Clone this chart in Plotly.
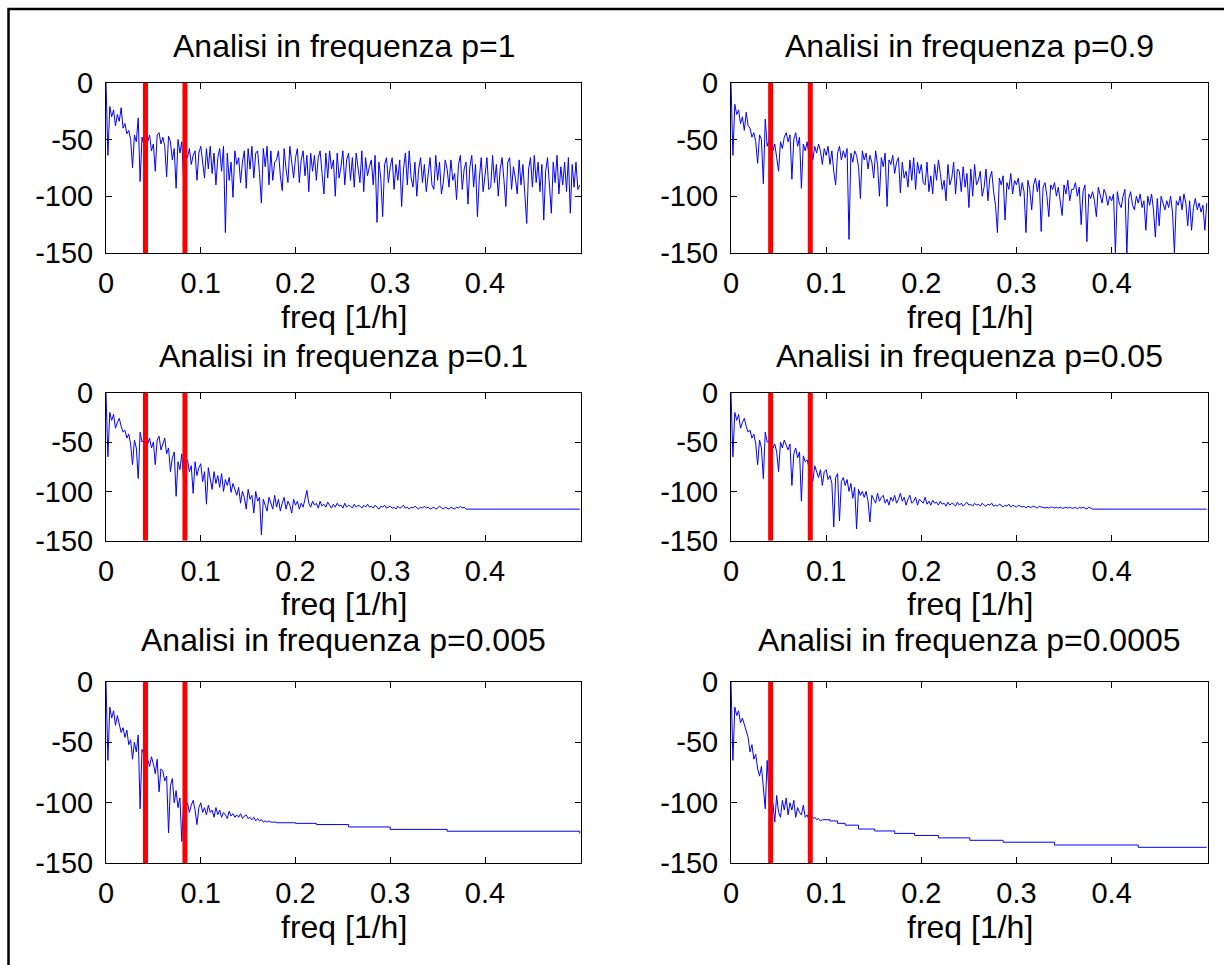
import plotly.graph_objects as go

W, H = 1224, 965
DF = 0.002  # frequency bin spacing of the noisy spectra [1/h]

titles = ["Analisi in frequenza p=1", "Analisi in frequenza p=0.9",
          "Analisi in frequenza p=0.1", "Analisi in frequenza p=0.05",
          "Analisi in frequenza p=0.005", "Analisi in frequenza p=0.0005"]
x_label = "freq [1/h]"
x_ticks = [0, 0.1, 0.2, 0.3, 0.4]
x_tick_text = ["0", "0.1", "0.2", "0.3", "0.4"]
y_ticks = [-150, -100, -50, 0]
y_tick_text = ["-150", "-100", "-50", "0"]
red_freqs = [1 / 24, 1 / 12]

# p = 1  (bins 0 .. 0.5)
s1 = [0, -64, -21, -30, -24, -38, -28, -34, -22, -40,
      -36, -45, -42, -50, -75, -46, -52, -31, -87, -48,
      -55, -20, -52, -46, -60, -54, -78, -46, -44, -54,
      -48, -56, -83, -47, -52, -68, -58, -93, -50, -62,
      -52, -88, -60, -66, -58, -72, -64, -60, -86, -62,
      -56, -70, -84, -58, -76, -56, -80, -62, -90, -66,
      -58, -78, -56, -132, -62, -86, -70, -101, -60, -72,
      -66, -88, -70, -60, -93, -58, -76, -56, -84, -62,
      -60, -80, -106, -58, -74, -56, -90, -60, -86, -70,
      -68, -60, -82, -95, -58, -76, -88, -56, -70, -84,
      -66, -58, -88, -68, -60, -82, -64, -96, -62, -78,
      -64, -86, -66, -60, -80, -98, -62, -84, -60, -76,
      -68, -100, -62, -84, -74, -60, -90, -68, -62, -86,
      -66, -92, -62, -78, -88, -60, -96, -66, -82, -74,
      -68, -90, -64, -123, -70, -84, -118, -72, -66, -88,
      -74, -66, -94, -72, -86, -68, -109, -76, -62, -90,
      -60, -84, -92, -70, -100, -76, -66, -88, -72, -96,
      -80, -66, -90, -94, -64, -86, -70, -98, -88, -68,
      -76, -92, -68, -86, -80, -103, -72, -64, -94, -76,
      -70, -107, -74, -64, -92, -72, -118, -84, -66, -96,
      -82, -66, -94, -92, -64, -88, -72, -100, -76, -66,
      -86, -109, -70, -66, -94, -74, -84, -98, -68, -90,
      -72, -96, -124, -76, -66, -92, -64, -88, -70, -96,
      -72, -121, -78, -66, -94, -115, -70, -88, -64, -98,
      -74, -90, -70, -96, -66, -115, -72, -92, -70, -94,
      -90]
# p = 0.9  (bins 0 .. 0.5)
s2 = [0, -64, -19, -28, -24, -36, -30, -42, -26, -38,
      -40, -48, -44, -52, -71, -46, -50, -89, -32, -56,
      -50, -22, -60, -54, -66, -78, -52, -58, -48, -44,
      -52, -46, -85, -50, -44, -56, -48, -93, -54, -60,
      -52, -64, -58, -68, -56, -62, -54, -60, -72, -58,
      -64, -56, -72, -60, -78, -90, -62, -56, -68, -60,
      -66, -58, -138, -62, -70, -60, -64, -74, -102, -60,
      -68, -62, -76, -64, -70, -84, -60, -72, -100, -66,
      -74, -62, -109, -68, -72, -64, -80, -70, -66, -97,
      -70, -84, -78, -92, -68, -86, -66, -94, -70, -80,
      -72, -88, -90, -70, -96, -82, -98, -72, -86, -68,
      -80, -94, -86, -104, -72, -90, -84, -70, -98, -76,
      -78, -96, -74, -92, -80, -110, -76, -100, -72, -90,
      -86, -78, -100, -92, -76, -104, -84, -78, -96, -108,
      -132, -84, -90, -82, -121, -88, -94, -80, -98, -86,
      -90, -84, -100, -88, -96, -132, -86, -94, -112, -90,
      -84, -96, -86, -131, -92, -88, -100, -118, -90, -94,
      -88, -100, -92, -104, -117, -90, -98, -86, -104, -94,
      -94, -88, -100, -92, -125, -96, -90, -140, -98, -102,
      -96, -104, -118, -92, -100, -106, -94, -98, -108, -100,
      -104, -98, -150, -96, -106, -110, -100, -94, -150, -102,
      -96, -108, -112, -100, -106, -98, -110, -104, -130, -100,
      -108, -98, -112, -136, -102, -126, -100, -106, -112, -104,
      -110, -100, -114, -150, -104, -108, -100, -112, -98, -106,
      -126, -104, -130, -110, -102, -112, -106, -114, -108, -130,
      -106]
# p = 0.1  (bins 0 .. 0.38, then flat)
s3 = [0, -65, -20, -28, -22, -36, -30, -26, -34, -40,
      -38, -46, -42, -52, -73, -48, -56, -87, -40, -50,
      -48, -23, -52, -46, -56, -50, -73, -48, -44, -58,
      -52, -46, -62, -56, -80, -66, -60, -105, -70, -78,
      -62, -88, -72, -68, -80, -74, -102, -70, -84, -76,
      -72, -90, -80, -113, -76, -86, -98, -80, -92, -84,
      -96, -82, -100, -88, -94, -86, -101, -92, -98, -104,
      -96, -112, -100, -106, -118, -98, -108, -104, -122, -100,
      -110, -106, -144, -108, -114, -120, -106, -112, -118, -104,
      -116, -108, -120, -112, -106, -118, -110, -114, -122, -108,
      -114, -110, -118, -112, -116, -108, -99, -112, -116, -110,
      -114, -112, -117, -110, -115, -113, -116, -111, -114, -117,
      -113, -116, -112, -115, -114, -117, -112, -116, -114, -115,
      -117, -113, -116, -114, -115, -117, -114, -116, -113, -116,
      -115, -117, -114, -116, -118, -115, -116, -114, -117, -116,
      -115, -117, -116, -118, -115, -117, -116, -114, -117, -116,
      -118, -116, -117, -115, -117, -118, -116, -117, -115, -117,
      -116, -118, -117, -116, -118, -117, -115, -117, -118, -116,
      -117, -118, -116, -117, -118, -116, -117, -115, -117, -116,
      -118]
s3_tail_x = [0.38, 0.5]
s3_tail_y = [-118, -118]
# p = 0.05  (bins 0 .. 0.38, then flat)
s4 = [0, -65, -20, -28, -22, -36, -30, -26, -34, -40,
      -38, -46, -42, -52, -73, -48, -56, -87, -40, -50,
      -50, -24, -56, -52, -60, -80, -50, -56, -48, -54,
      -58, -52, -94, -62, -56, -66, -60, -110, -64, -70,
      -68, -76, -82, -90, -74, -80, -86, -78, -94, -80,
      -78, -88, -84, -92, -136, -86, -82, -130, -90, -86,
      -94, -88, -100, -92, -107, -96, -138, -98, -104, -100,
      -106, -100, -110, -131, -104, -108, -112, -102, -110, -106,
      -104, -112, -108, -114, -106, -110, -104, -112, -108, -102,
      -110, -106, -114, -108, -104, -112, -110, -106, -114, -108,
      -110, -112, -106, -113, -110, -114, -109, -112, -111, -114,
      -110, -113, -112, -115, -111, -114, -112, -113, -115, -111,
      -114, -112, -115, -113, -111, -114, -113, -115, -112, -114,
      -113, -115, -112, -114, -115, -113, -114, -112, -115, -114,
      -115, -113, -114, -116, -114, -115, -113, -116, -114, -115,
      -116, -114, -115, -116, -115, -117, -115, -116, -116, -115,
      -116, -117, -115, -116, -116, -117, -116, -117, -116, -116,
      -117, -116, -117, -116, -117, -117, -116, -117, -116, -117,
      -117, -116, -118, -116, -117, -116, -117, -118, -116, -117,
      -118]
s4_tail_x = [0.38, 0.5]
s4_tail_y = [-118, -118]
# p = 0.005  (bins 0 .. 0.176, then staircase)
s5 = [0, -65, -21, -30, -24, -36, -28, -34, -42, -38,
      -46, -40, -52, -48, -64, -50, -58, -44, -105, -56,
      -60, -34, -64, -70, -62, -68, -76, -64, -91, -72,
      -74, -82, -78, -125, -86, -80, -100, -90, -104, -96,
      -132, -98, -104, -100, -108, -102, -98, -106, -118, -104,
      -100, -108, -104, -110, -102, -108, -106, -112, -104, -110,
      -106, -112, -108, -110, -113, -107, -111, -109, -112, -110,
      -112, -109, -113, -111, -110, -113, -112, -114, -112, -115,
      -113, -115, -114, -116, -115, -116, -115, -116, -116]
s5_tail_x = [0.176, 0.18, 0.20, 0.222, 0.256, 0.30, 0.36, 0.5]
s5_tail_y = [-116, -116.5, -117, -118, -120, -122, -123.5, -125.5]
# p = 0.0005  (bins 0 .. 0.096, then staircase)
s6 = [0, -65, -21, -28, -24, -34, -30, -36, -40, -46,
      -58, -52, -64, -60, -72, -78, -70, -88, -105, -65,
      -96, -104, -100, -116, -94, -108, -112, -98, -106, -96,
      -110, -100, -106, -98, -112, -104, -108, -110, -102, -112,
      -110, -114, -111, -113, -112, -114, -113, -115, -114]
s6_tail_x = [0.096, 0.104, 0.112, 0.12, 0.134, 0.151, 0.172, 0.193,
             0.218, 0.251, 0.286, 0.340, 0.428, 0.5]
s6_tail_y = [-114, -115, -117, -118.5, -121.7, -123.3, -125.3, -127,
             -129, -131, -132.6, -134.9, -136.8, -136.8]

series = [s1, s2, s3, s4, s5, s6]
tails = [None, None, (s3_tail_x, s3_tail_y), (s4_tail_x, s4_tail_y),
         (s5_tail_x, s5_tail_y), (s6_tail_x, s6_tail_y)]

# layout boxes in pixels (left, right, top, bottom)
cols = [(106, 581), (731, 1208)]
rows = [(82.7, 253), (392.7, 540.7), (681.7, 863.3)]
title_y = [46, 356, 640]
xlabel_y = [317, 604, 927]
XMAX = 0.5013

FONT = "Liberation Sans, Arial, Helvetica, sans-serif"
FS_TICK = 29
FS_LABEL = 32


def px(x):
    return x / W


def py(y):
    return 1 - y / H


fig = go.Figure()
annotations = []
layout = {}
for i in range(6):
    r, c = divmod(i, 2)
    n = i + 1
    xa = "x" if n == 1 else f"x{n}"
    ya = "y" if n == 1 else f"y{n}"
    vals = series[i]
    freqs = [k * DF for k in range(len(vals))]
    fig.add_trace(go.Scatter(x=freqs, y=vals, mode="lines",
                             line=dict(color="#0000ff", width=1),
                             xaxis=xa, yaxis=ya, showlegend=False,
                             hoverinfo="skip"))
    if tails[i] is not None:
        tx, ty = tails[i]
        fig.add_trace(go.Scatter(x=tx, y=ty, mode="lines",
                                 line=dict(color="#0000ff", width=1, shape="hv"),
                                 xaxis=xa, yaxis=ya, showlegend=False,
                                 hoverinfo="skip"))
    for f in red_freqs:
        fig.add_trace(go.Scatter(x=[f, f], y=[-150, 0], mode="lines",
                                 line=dict(color="#ff0000", width=5),
                                 xaxis=xa, yaxis=ya, showlegend=False,
                                 hoverinfo="skip", cliponaxis=False))
    x0, x1 = cols[c]
    y0, y1 = rows[r]
    axcommon = dict(showgrid=False, zeroline=False, showline=True,
                    linecolor="black", linewidth=1, mirror="ticks",
                    ticks="inside", ticklen=6, tickcolor="black",
                    automargin=False,
                    tickfont=dict(family=FONT, size=FS_TICK, color="black"))
    layout["xaxis" if n == 1 else f"xaxis{n}"] = dict(
        domain=[px(x0), px(x1)], range=[0, XMAX], anchor=ya,
        tickvals=x_ticks, ticktext=x_tick_text, ticklabelstandoff=4, **axcommon)
    layout["yaxis" if n == 1 else f"yaxis{n}"] = dict(
        domain=[py(y1), py(y0)], range=[-150, 0], anchor=xa,
        tickvals=y_ticks, ticktext=y_tick_text, ticklabelstandoff=6, **axcommon)
    cx = (x0 + x1) / 2
    annotations.append(dict(text=titles[i], x=px(cx), y=py(title_y[r]),
                            xref="paper", yref="paper", xanchor="center",
                            yanchor="middle", showarrow=False,
                            font=dict(family=FONT, size=FS_LABEL, color="black")))
    annotations.append(dict(text=x_label, x=px(cx), y=py(xlabel_y[r]),
                            xref="paper", yref="paper", xanchor="center",
                            yanchor="middle", showarrow=False,
                            font=dict(family=FONT, size=FS_LABEL, color="black")))

fig.update_layout(
    width=W, height=H, autosize=False,
    margin=dict(l=0, r=0, t=0, b=0, pad=0, autoexpand=False),
    paper_bgcolor="white", plot_bgcolor="white",
    annotations=annotations,
    shapes=[dict(type="rect", xref="paper", yref="paper",
                 x0=px(8.5), x1=1.02, y0=-0.02, y1=py(9),
                 line=dict(color="black", width=2.5))],
    **layout)

fig.write_html("out.html",
               config={"displayModeBar": False},
               post_script="document.body.style.margin='0';"
                           "document.body.style.overflow='hidden';")
